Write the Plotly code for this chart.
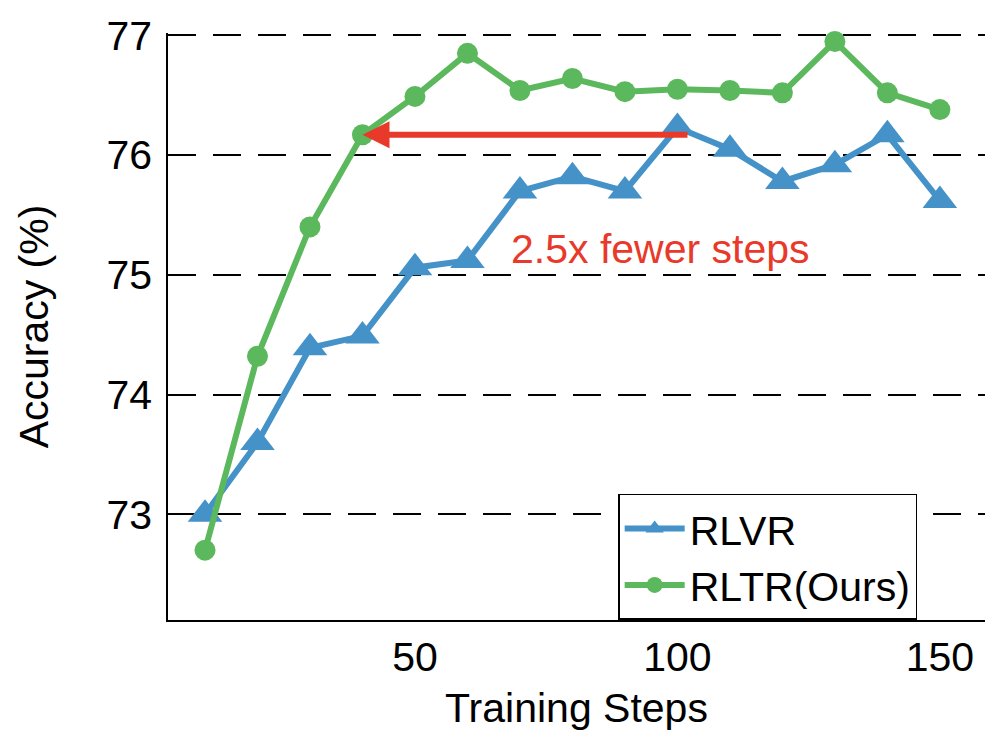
import plotly.graph_objects as go

steps = [10, 20, 30, 40, 50, 60, 70, 80, 90, 100, 110, 120, 130, 140, 150]
rlvr = [73.0, 73.6, 74.39, 74.49, 75.06, 75.12, 75.7, 75.82, 75.7, 76.23, 76.05, 75.78, 75.92, 76.17, 75.62]
rltr = [72.7, 74.32, 75.4, 76.17, 76.49, 76.85, 76.54, 76.64, 76.53, 76.55, 76.54, 76.52, 76.95, 76.52, 76.38]
y_ticks = [73, 74, 75, 76, 77]
x_ticks = [50, 100, 150]

blue = '#4592c8'
green = '#5cb85c'
red = '#e8392a'
font = 'Liberation Sans, Arial, Helvetica, sans-serif'

fig = go.Figure()
fig.add_trace(go.Scatter(
    x=steps, y=rlvr, name='RLVR', mode='lines+markers',
    line=dict(color=blue, width=6),
    marker=dict(symbol='triangle-up', size=30, color=blue),
    cliponaxis=False
))
fig.add_trace(go.Scatter(
    x=steps, y=rltr, name='RLTR(Ours)', mode='lines+markers',
    line=dict(color=green, width=6),
    marker=dict(symbol='circle', size=21, color=green),
    cliponaxis=False
))

# arrow: RLTR reaches RLVR's best accuracy much earlier
fig.add_annotation(
    x=40, y=rltr[3], ax=102.2, ay=rltr[3],
    xref='x', yref='y', axref='x', ayref='y',
    text='', showarrow=True,
    arrowhead=2, arrowsize=0.9, arrowwidth=6, arrowcolor=red
)
fig.add_annotation(
    x=96.7, y=75.22, xref='x', yref='y',
    text='2.5x fewer steps', showarrow=False,
    font=dict(size=41, color=red, family=font)
)

# page body has an 8px margin, so margins are offset to keep the plot area in place
fig.update_layout(
    width=996, height=747,
    margin=dict(l=160, r=19, t=25, b=135, autoexpand=False),
    plot_bgcolor='white', paper_bgcolor='white',
    font=dict(family=font, size=41, color='black'),
    showlegend=True,
    legend=dict(
        x=0.551, y=0.2147, xanchor='left', yanchor='top',
        bordercolor='black', borderwidth=1.5,
        font=dict(size=41), bgcolor='white',
        itemwidth=60, tracegroupgap=0
    ),
    xaxis=dict(
        range=[2.95, 158.6], tickvals=x_ticks, automargin=False,
        showline=True, linecolor='black', linewidth=1.5,
        showgrid=False, zeroline=False, ticks='',
        ticklabelstandoff=0,
        title=dict(text='Training Steps', standoff=14, font=dict(size=41))
    ),
    yaxis=dict(
        range=[72.117, 77.02], tickvals=y_ticks, automargin=False,
        showline=True, linecolor='black', linewidth=1.5,
        showgrid=True, gridcolor='black', gridwidth=1.5,
        griddash='28px,17px', zeroline=False, ticks='',
        ticklabelstandoff=6,
        title=dict(text='Accuracy (%)', standoff=45, font=dict(size=41))
    )
)

fig.write_html("out.html")
